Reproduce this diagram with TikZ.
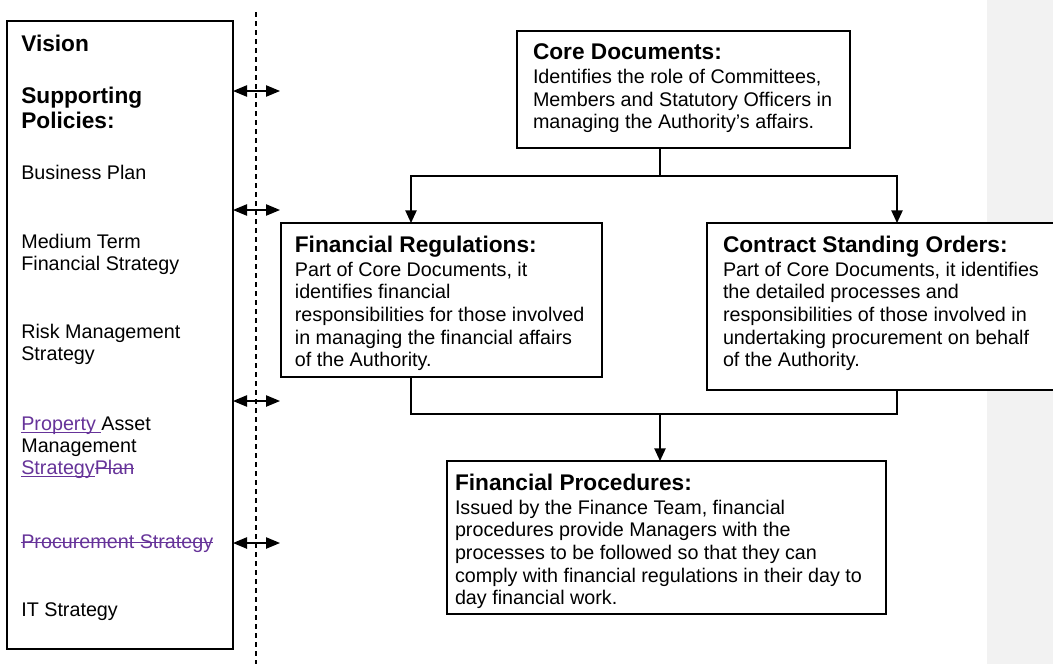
\documentclass[tikz,border=0pt]{standalone}
\usepackage{fontspec}
\setmainfont{Liberation Sans}
\usetikzlibrary{arrows.meta}

\definecolor{revpurple}{RGB}{102,51,153}
\definecolor{marginfill}{RGB}{242,242,242}

\newsavebox{\revbox}
\newcommand{\bodyfont}{\fontsize{14.8pt}{17pt}\selectfont}
\newcommand{\headfont}{\fontsize{17pt}{18.75pt}\selectfont\bfseries}
\newcommand{\boxhead}[1]{{\headfont #1\par}\vspace{1pt}}
\newcommand{\revadd}[1]{\textcolor{revpurple}{\sbox{\revbox}{#1}%
  \rlap{\rule[-2.2pt]{\wd\revbox}{0.8pt}}\usebox{\revbox}}}
\newcommand{\revdel}[1]{\textcolor{revpurple}{\sbox{\revbox}{#1}%
  \rlap{\rule[3.6pt]{\wd\revbox}{0.8pt}}\usebox{\revbox}}}

\tikzset{
  docbox/.style={draw, line width=1pt, fill=white, anchor=north west,
    inner xsep=12pt, inner ysep=9.5pt, outer sep=0pt},
  flow/.style={line width=1pt, -{Triangle[length=9.5pt,width=8.5pt]}},
  link/.style={line width=1pt,
    {Triangle[length=10.5pt,width=8.5pt]}-{Triangle[length=10.5pt,width=8.5pt]}},
}

\begin{document}
\begin{tikzpicture}[x=0.75pt,y=-0.75pt,font=\bodyfont]
  \useasboundingbox (0,0) rectangle (1053,664);
  \fill[marginfill] (987,0) rectangle (1053,664);
  \draw[line width=0.8pt, dash pattern=on 3.75pt off 3pt] (256,12) -- (256,664);

  % left column
  \node[docbox, inner xsep=10.75pt, inner ysep=10.4pt] (policies) at (7,21)
    {\parbox[c][450.2pt][t]{148pt}{\raggedright\fontsize{14.8pt}{16.5pt}\selectfont
      {\headfont Vision\par}
      \vspace{20.25pt}
      {\headfont Supporting\\Policies:\par}
      \vspace{21.75pt}
      Business Plan\par
      \vspace{35.25pt}
      Medium Term\\Financial Strategy\par
      \vspace{34.5pt}
      Risk Management\\Strategy\par
      \vspace{36pt}
      \revadd{Property\ }Asset\\Management\\\revadd{Strategy}\revdel{Plan}\par
      \vspace{39pt}
      \revdel{Procurement Strategy}\par
      \vspace{34.5pt}
      IT Strategy\par}};

  % documents
  \node[docbox] (core) at (517,31)
    {\parbox[c][68.75pt][t]{225.75pt}{\raggedright
      \boxhead{Core Documents:}
      Identifies the role of Committees,\\Members and Statutory Officers in\\managing the Authority’s affairs.}};
  \node[docbox, inner xsep=10.4pt] (finreg) at (281,223)
    {\parbox[c][96.5pt][t]{220pt}{\raggedright
      \boxhead{Financial Regulations:}
      Part of Core Documents, it\\identifies financial\\responsibilities for those involved\\in managing the financial affairs\\of the Authority.}};
  \node[docbox] (cso) at (707,223)
    {\parbox[c][106.25pt][t]{242.25pt}{\raggedright
      \boxhead{Contract Standing Orders:}
      Part of Core Documents, it identifies\\the detailed processes and\\responsibilities of those involved in\\undertaking procurement on behalf\\of the Authority.}};
  \node[docbox, inner xsep=6pt] (finproc) at (447,461)
    {\parbox[c][95.75pt][t]{317.25pt}{\raggedright
      \boxhead{Financial Procedures:}
      Issued by the Finance Team, financial\\procedures provide Managers with the\\processes to be followed so that they can\\comply with financial regulations in their day to\\day financial work.}};

  % connectors
  \coordinate (split) at (660,176);
  \coordinate (merge) at (660,414);
  \coordinate (leftx) at (411,0);
  \coordinate (rightx) at (897,0);
  \draw[line width=1pt] (core.south -| split) -- (split);
  \draw[flow] (split) -| (finreg.north -| leftx);
  \draw[flow] (split) -| (cso.north -| rightx);
  \draw[line width=1pt] (finreg.south -| leftx) |- (merge);
  \draw[line width=1pt] (cso.south -| rightx) |- (merge);
  \draw[flow] (merge) -- (finproc.north -| merge);

  % links to the policies
  \coordinate (l1) at (280,91);
  \coordinate (l2) at (280,210);
  \coordinate (l3) at (280,401);
  \coordinate (l4) at (280,543);
  \foreach \l in {l1,l2,l3,l4}
    \draw[link] (policies.east |- \l) -- (\l);
\end{tikzpicture}
\end{document}
